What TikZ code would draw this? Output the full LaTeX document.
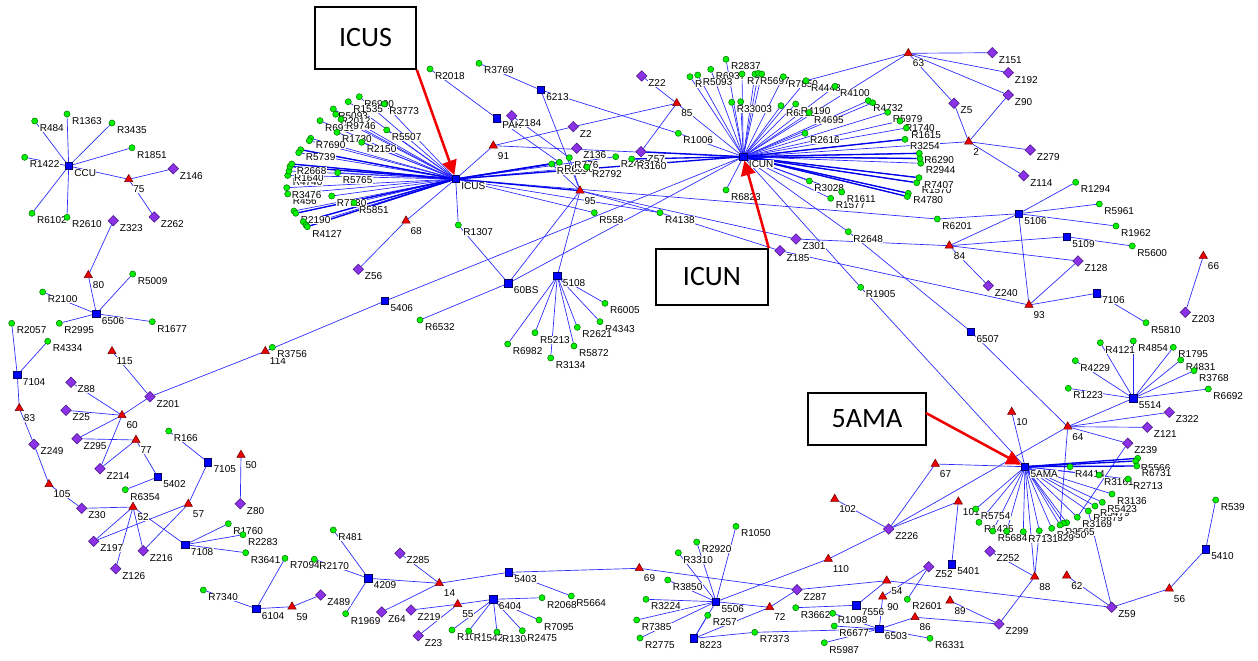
\documentclass[tikz,border=0pt]{standalone}
\usepackage{fontspec}
\setmainfont{Liberation Sans}
\newfontfamily\calib{Carlito}
\usetikzlibrary{shapes.geometric,arrows.meta}
\pgfdeclarelayer{edges}
\pgfsetlayers{edges,main}
\definecolor{gfill}{RGB}{0,240,0}
\definecolor{gline}{RGB}{0,110,0}
\definecolor{bfill}{RGB}{0,0,255}
\definecolor{bline}{RGB}{0,0,100}
\definecolor{rfill}{RGB}{235,0,0}
\definecolor{rline}{RGB}{110,0,0}
\definecolor{pfill}{RGB}{140,50,230}
\definecolor{pline}{RGB}{70,20,130}
\definecolor{edgec}{RGB}{40,40,255}
\definecolor{edged}{RGB}{0,0,235}
\definecolor{arrred}{RGB}{240,0,0}
\tikzset{
 rn/.style={circle,fill=gfill,draw=gline,line width=0.35pt,inner sep=0pt,minimum size=4.6pt},
 sq/.style={rectangle,fill=bfill,draw=bline,line width=0.4pt,inner sep=0pt,minimum size=5.4pt},
 tr/.style={regular polygon,regular polygon sides=3,fill=rfill,draw=rline,line width=0.4pt,inner sep=0pt,minimum size=7.2pt},
 dm/.style={diamond,fill=pfill,draw=pline,line width=0.4pt,inner sep=0pt,minimum size=8pt},
 lab/.style={font=\fontsize{7.5}{8}\selectfont,anchor=west,fill=white,inner sep=0.3pt},
 ed/.style={draw=edgec,line width=0.5pt},
 edt/.style={draw=edged,line width=1.0pt},
 callout/.style={draw=black,line width=1.2pt,fill=white,font=\calib\fontsize{21}{24}\selectfont,inner sep=0pt},
 redarrow/.style={draw=arrred,line width=1.9pt,-{Triangle[length=11pt,width=11pt]}},
}
\newcount\passno
\newcommand{\GenNode}[7]{\ifnum\passno=1 \node[lab] (#2-l) at ({#3+#6},{#4+#7}) {#5};\else \node[#1] (#2) at (#3,#4) {};\fi}
\newcommand{\NdR}[4]{\GenNode{rn}{#1}{#2}{#3}{#4}{4.5}{7}}
\newcommand{\NdS}[4]{\GenNode{sq}{#1}{#2}{#3}{#4}{5}{7}}
\newcommand{\NdT}[4]{\GenNode{tr}{#1}{#2}{#3}{#4}{4}{10}}
\newcommand{\NdD}[4]{\GenNode{dm}{#1}{#2}{#3}{#4}{6}{7}}
\newcommand{\NdU}[3]{\ifnum\passno=2 \node[rn] (#1) at (#2,#3) {};\fi}
\newcommand{\AllNodes}{%
\NdR{R484}{34.7}{121}{R484}
\NdR{R1363}{67}{114}{R1363}
\NdR{R3435}{112}{123}{R3435}
\NdR{R1422}{24.7}{157.3}{R1422}
\NdR{R1851}{132}{147.7}{R1851}
\NdS{CCU}{68.7}{166}{CCU}
\NdT{t75}{128.7}{179.3}{75}
\NdD{Z146}{173.3}{168.7}{Z146}
\NdD{Z262}{154.3}{217}{Z262}
\NdR{R6102}{32}{213.3}{R6102}
\NdR{R2610}{67}{217.3}{R2610}
\NdD{Z323}{113.3}{220.7}{Z323}
\NdT{t80}{88.3}{275.3}{80}
\NdR{R5009}{132.7}{274}{R5009}
\NdR{R2100}{42.7}{292}{R2100}
\NdS{s6506}{96.3}{313.7}{6506}
\NdR{R2057}{11.7}{323.3}{R2057}
\NdR{R2995}{59.3}{323.3}{R2995}
\NdR{R1677}{152.3}{321.7}{R1677}
\NdR{R4334}{47.7}{341.3}{R4334}
\NdT{t115}{112}{351.3}{115}
\NdT{t114}{265.3}{351.3}{114}
\NdR{R3756}{272.3}{347.3}{R3756}
\NdS{s7104}{17.3}{375}{7104}
\NdD{Z88}{71}{382.3}{Z88}
\NdD{Z201}{150}{396.7}{Z201}
\NdD{Z25}{66}{410.3}{Z25}
\NdT{t83}{19.3}{408.3}{83}
\NdT{t60}{122}{415.3}{60}
\NdD{Z295}{77}{438.7}{Z295}
\NdT{t77}{136}{440}{77}
\NdR{R166}{168.7}{431}{R166}
\NdD{Z249}{34}{444.3}{Z249}
\NdS{s7105}{208}{462.3}{7105}
\NdT{t50}{241}{455}{50}
\NdD{Z214}{100}{468.7}{Z214}
\NdS{s5402}{157.7}{477}{5402}
\NdT{t105}{49}{484.3}{105}
\NdR{R6354}{125.3}{489.7}{R6354}
\NdD{Z80}{240.3}{503.7}{Z80}
\NdD{Z30}{81.7}{508.3}{Z30}
\NdT{t52}{133}{507}{52}
\NdT{t57}{188.3}{504}{57}
\NdR{R1760}{228.3}{523.7}{R1760}
\NdR{R2283}{243}{534.7}{R2283}
\NdD{Z197}{93.7}{541.3}{Z197}
\NdS{s7108}{185.3}{544.7}{7108}
\NdD{Z216}{143.3}{550.7}{Z216}
\NdR{R3641}{245.7}{552.7}{R3641}
\NdR{R7094}{285}{558.3}{R7094}
\NdD{Z126}{115.7}{568.7}{Z126}
\NdR{R7340}{203.3}{590}{R7340}
\NdS{s6104}{256.3}{608.7}{6104}
\NdT{t59}{292}{606.7}{59}
\NdR{R481}{333.3}{530}{R481}
\NdR{R2170}{314.3}{559.3}{R2170}
\NdD{Z489}{320.7}{595}{Z489}
\NdS{s4209}{368.3}{578.3}{4209}
\NdR{R1969}{345.7}{613.7}{R1969}
\NdD{Z285}{400}{553.3}{Z285}
\NdT{t14}{439.3}{583.3}{14}
\NdD{Z64}{381.7}{612}{Z64}
\NdD{Z219}{411}{610}{Z219}
\NdT{t55}{457.7}{604.3}{55}
\NdD{Z23}{418.3}{635.7}{Z23}
\NdS{s6404}{493.3}{599.3}{6404}
\NdS{s5403}{508.7}{572.3}{5403}
\NdR{R2068}{542}{597.7}{R2068}
\NdR{R5664}{571.3}{596}{R5664}
\NdR{R7095}{539}{620}{R7095}
\NdR{R1041}{452}{630}{R1041}
\NdR{R1542}{468.7}{631}{R1542}
\NdR{R1304}{497}{632}{R1304}
\NdR{R2475}{522.3}{630.7}{R2475}
\NdT{t67}{935.3}{464}{67}
\NdT{t102}{834.7}{499}{102}
\NdD{Z226}{888.7}{529}{Z226}
\NdR{R1050}{736}{526.3}{R1050}
\NdR{R2920}{696.7}{542}{R2920}
\NdR{R3310}{678.3}{552.7}{R3310}
\NdT{t69}{639.3}{568.3}{69}
\NdT{t110}{828.3}{559}{110}
\NdD{Z52}{928.7}{566.7}{Z52}
\NdS{s5401}{951.7}{564.3}{5401}
\NdR{R3850}{667.7}{580}{R3850}
\NdD{Z287}{797}{589.7}{Z287}
\NdT{t54}{886.7}{580.7}{54}
\NdT{t90}{882.7}{596.7}{90}
\NdR{R2601}{907.3}{599.3}{R2601}
\NdT{t89}{950}{600.7}{89}
\NdR{R3224}{646}{599.3}{R3224}
\NdS{s5506}{716}{601.7}{5506}
\NdT{t72}{769.7}{607.3}{72}
\NdR{R3662}{795.7}{607.7}{R3662}
\NdS{s7556}{856.3}{605.3}{7556}
\NdR{R1098}{832.7}{613.3}{R1098}
\NdR{R257}{707.7}{615.3}{R257}
\NdR{R7385}{636.7}{620}{R7385}
\NdT{t86}{915}{617.3}{86}
\NdR{R6677}{834.3}{626}{R6677}
\NdS{s6503}{879.3}{629}{6503}
\NdR{R7373}{754.7}{632.3}{R7373}
\NdS{s8223}{694}{638.3}{8223}
\NdR{R6331}{930}{638.3}{R6331}
\NdR{R2775}{640}{638}{R2775}
\NdR{R5987}{824.3}{642.7}{R5987}
\NdT{t10}{1011.7}{412}{10}
\NdT{t64}{1067.7}{426.7}{64}
\NdT{t101}{958.3}{501.7}{101}
\NdD{Z252}{990}{551.3}{Z252}
\NdT{t88}{1034.7}{576.7}{88}
\NdT{t62}{1066.7}{575.7}{62}
\NdD{Z59}{1111.7}{607.3}{Z59}
\NdD{Z299}{999}{624}{Z299}
\NdT{t56}{1169.3}{588.7}{56}
\NdS{s5410}{1205.7}{549.3}{5410}
\NdR{R539}{1215.7}{500}{R539}
\NdD{Z322}{1169.3}{412.3}{Z322}
\NdD{Z121}{1147.3}{427.3}{Z121}
\NdD{Z239}{1127.7}{443.3}{Z239}
\NdS{s5514}{1133.3}{398.3}{5514}
\NdR{R4121}{1100.3}{342.7}{R4121}
\NdR{R4854}{1133.3}{341}{R4854}
\NdR{R1795}{1173.3}{347.3}{R1795}
\NdR{R4831}{1180.7}{360}{R4831}
\NdR{R3768}{1194}{370.7}{R3768}
\NdR{R6692}{1208.3}{389}{R6692}
\NdR{R4229}{1075.3}{360.7}{R4229}
\NdR{R1223}{1068.3}{388.3}{R1223}
\NdS{s6507}{971}{331.7}{6507}
\NdU{u7}{1137.7}{458.3}
\NdR{R5566}{1135.7}{461}{R5566}
\NdR{R6731}{1136.7}{466}{R6731}
\NdR{R441}{1070}{466.7}{R4414}
\NdR{R3161}{1099}{475}{R3161}
\NdR{R2713}{1128}{479}{R2713}
\NdR{R3136}{1112}{494}{R3136}
\NdR{R5679}{1088.3}{511}{R5679}
\NdR{R5479}{1095}{506}{R5479}
\NdR{R5423}{1102.3}{502.3}{R5423}
\NdR{R3169}{1077.3}{517.3}{R3169}
\NdU{u9}{1066.7}{522.7}
\NdU{u10}{1063.3}{523.3}
\NdR{R2565}{1060}{525}{R2565}
\NdR{R4350}{1051.7}{528.3}{R4350}
\NdR{R4829}{1039.3}{530.7}{R4829}
\NdR{R7131}{1023.3}{531.7}{R7131}
\NdU{u11}{1006.7}{531.3}
\NdR{R5754}{975.7}{509}{R5754}
\NdR{R1435}{979}{522.3}{R1435}
\NdR{R5684}{992.7}{531}{R5684}
\NdS{AMA}{1025}{466.7}{5AMA}
\NdT{t63}{908.3}{53.3}{63}
\NdD{Z151}{992.3}{52.7}{Z151}
\NdD{Z192}{1008.3}{72.7}{Z192}
\NdD{Z5}{954}{103.3}{Z5}
\NdD{Z90}{1008.3}{95}{Z90}
\NdT{t2}{968.7}{141.7}{2}
\NdD{Z279}{1030.3}{150}{Z279}
\NdD{Z114}{1023.7}{175.7}{Z114}
\NdR{R1294}{1075.7}{182.3}{R1294}
\NdR{R5961}{1099.3}{204}{R5961}
\NdS{s5106}{1018.7}{213.7}{5106}
\NdR{R1962}{1116}{226}{R1962}
\NdS{s5109}{1066.7}{236.7}{5109}
\NdR{R5600}{1132.3}{246}{R5600}
\NdT{t84}{949.3}{245.7}{84}
\NdD{Z128}{1078}{261}{Z128}
\NdT{t66}{1203.3}{256}{66}
\NdD{Z240}{988.3}{285.7}{Z240}
\NdS{s7106}{1096.7}{293.3}{7106}
\NdT{t93}{1029}{305}{93}
\NdD{Z203}{1185.3}{312.3}{Z203}
\NdR{R5810}{1146}{322.7}{R5810}
\NdR{R6201}{937.3}{219}{R6201}
\NdD{Z301}{796}{239}{Z301}
\NdD{Z185}{780}{250.7}{Z185}
\NdR{R2648}{848.3}{231.7}{R2648}
\NdR{R1905}{860.7}{287.3}{R1905}
\NdR{R2018}{430}{69}{R2018}
\NdR{R3769}{479}{63.3}{R3769}
\NdS{s6213}{540.7}{90}{6213}
\NdS{PAK}{496.7}{118.3}{PAK}
\NdD{Z184}{511.7}{115.7}{Z184}
\NdD{Z2}{573.3}{126.7}{Z2}
\NdT{t91}{493.3}{145.7}{91}
\NdD{Z136}{576.7}{148.3}{Z136}
\NdD{Z57}{641}{151.7}{Z57}
\NdD{Z22}{641.7}{76}{Z22}
\NdT{t85}{676.7}{103.3}{85}
\NdR{R1006}{678.3}{133.3}{R1006}
\NdR{R6921}{551.7}{164}{R6921}
\NdR{R6036}{559.3}{162.3}{R6036}
\NdR{R2792}{587}{167}{R2792}
\NdR{R776}{569.3}{157.7}{R776}
\NdR{R2407}{615.7}{156.7}{R2407}
\NdR{R3160}{631.7}{159}{R3160}
\NdT{t95}{580}{190.7}{95}
\NdR{R558}{594.3}{212.7}{R558}
\NdR{R4138}{660}{212.7}{R4138}
\NdT{t68}{406}{220.7}{68}
\NdD{Z56}{358.3}{269.3}{Z56}
\NdR{R1307}{458.3}{225}{R1307}
\NdS{s60BS}{508.3}{283.3}{60BS}
\NdS{s5108}{557.3}{276}{5108}
\NdR{R6005}{605}{303.3}{R6005}
\NdR{R4343}{600}{321.7}{R4343}
\NdR{R2621}{577.3}{327.3}{R2621}
\NdR{R5213}{535}{332.7}{R5213}
\NdR{R6982}{507.7}{344}{R6982}
\NdR{R3134}{550.7}{358}{R3134}
\NdR{R5872}{574}{346}{R5872}
\NdR{R6532}{420}{320}{R6532}
\NdS{s5406}{385}{301}{5406}
\NdR{R6990}{359.3}{96.7}{R6990}
\NdR{R1535}{348.3}{101.7}{R1535}
\NdR{R3773}{384.3}{104}{R3773}
\NdR{R5093a}{333.3}{109}{R5093}
\NdR{R2012}{335.7}{114.3}{R2012}
\NdR{R6910}{320}{120.7}{R6910}
\NdR{R9746}{341}{119.3}{R9746}
\NdR{R5507}{386.7}{130}{R5507}
\NdR{R1730}{337}{132.3}{R1730}
\NdR{R7690}{310.7}{138.3}{R7690}
\NdU{u1}{309.3}{140.7}
\NdR{R2150}{361.7}{142.3}{R2150}
\NdR{R5739}{300.7}{149.7}{R5739}
\NdU{u2}{298.7}{152.7}
\NdR{R4740}{287.7}{175.5}{R4740}
\NdR{R1640}{289}{171}{R1640}
\NdU{u3}{290}{166.5}
\NdR{R2668}{291.7}{164}{R2668}
\NdR{R5765}{337.7}{172.7}{R5765}
\NdR{R456}{287.7}{194}{R456}
\NdR{R3476}{286.7}{187.7}{R3476}
\NdR{R7730}{331.7}{196}{R7730}
\NdR{R5851}{354}{202.7}{R5851}
\NdU{u4}{294}{211}
\NdR{R2190}{295.7}{213.3}{R2190}
\NdU{u5}{303.3}{221.7}
\NdU{u6}{306}{225}
\NdR{R4127}{307.3}{226.7}{R4127}
\NdS{ICUS}{455.7}{179}{ICUS}
\NdR{R2837}{726}{59.3}{R2837}
\NdR{R6937}{710.7}{69.3}{R6937}
\NdR{Rr}{690}{76.7}{R}
\NdR{R5093}{697.7}{75}{R5093}
\NdR{R7}{742}{74}{R7}
\NdR{R5697}{755}{74}{R5697}
\NdU{u12}{758.3}{73.3}
\NdU{u13}{761.7}{74}
\NdR{R7850}{783.3}{76.7}{R7850}
\NdR{R4448}{806}{80.7}{R4448}
\NdR{R4100}{835}{86.3}{R4100}
\NdR{R33003}{731.7}{102.3}{R33003}
\NdU{u14}{740.7}{101.7}
\NdR{R6890}{781}{105.7}{R6890}
\NdR{R4190}{795.7}{104}{R4190}
\NdR{R4695}{809}{112.7}{R4695}
\NdR{R4732}{868.3}{100.7}{R4732}
\NdU{u15}{872.7}{102.7}
\NdR{R5979}{887.7}{112.3}{R5979}
\NdR{R1740}{900}{121}{R1740}
\NdR{R1615}{906.3}{128}{R1615}
\NdR{R3254}{905}{139.3}{R3254}
\NdR{R2616}{805}{133.3}{R2616}
\NdR{R2944}{920.7}{163.3}{R2944}
\NdU{u16}{920}{158.5}
\NdR{R6290}{919.3}{153.3}{R6290}
\NdR{R1570}{916.7}{182.7}{R1570}
\NdR{R7407}{919}{177.7}{R7407}
\NdR{R4780}{908.3}{193.3}{R4780}
\NdU{u17}{907.3}{196.5}
\NdR{R3028}{809.3}{181}{R3028}
\NdR{R1577}{830.7}{198.3}{R1577}
\NdR{R1611}{841.7}{192}{R1611}
\NdR{R6823}{726}{190}{R6823}
\NdS{ICUN}{743.3}{156.7}{ICUN}
}
\begin{document}
\begin{tikzpicture}[x=0.75pt,y=-0.75pt]
\useasboundingbox (0,0) rectangle (1258,661);
\passno=1
\AllNodes
\passno=2
\AllNodes
\begin{pgfonlayer}{edges}
\fill[white] (0,0) rectangle (1258,661);
\foreach \a/\b in {CCU/R484,CCU/R1363,CCU/R3435,CCU/R1422,CCU/R1851,CCU/t75,CCU/R6102,CCU/R2610,t75/Z146,t75/Z262,Z323/t80,t80/s6506,s6506/R5009,s6506/R2100,s6506/R2995,s6506/R1677,
R2057/s7104,R4334/s7104,s7104/t83,t83/Z249,Z249/t105,t105/Z30,Z30/t52,t52/Z197,t52/Z126,t52/Z216,t52/s7108,R6354/s5402,s5402/t77,t77/Z295,t77/Z214,t60/Z295,t60/Z214,t60/Z25,t60/Z88,t60/Z201,Z201/t115,Z201/t114,t114/s5406,s5406/ICUN,
R166/s7105,s7105/t57,t57/Z197,t57/Z216,s7108/R1760,s7108/R2283,s7108/R3641,t50/Z80,R7094/s6104,R7340/s6104,s6104/t59,t59/Z489,
R481/s4209,R2170/s4209,R1969/s4209,s4209/t14,t14/Z285,t14/Z64,t14/s5403,s5403/R5664,s5403/t69,t55/Z219,t55/Z23,t55/s6404,s6404/R2068,s6404/R7095,s6404/R1041,s6404/R1542,s6404/R1304,s6404/R2475}
 \draw[ed] (\a) -- (\b);
\foreach \a/\b in {s5506/R1050,s5506/R2920,s5506/R3310,s5506/R3850,s5506/R3224,s5506/R7385,s5506/R2775,s5506/s8223,s5506/t72,s5506/t110,t110/Z226,t72/Z287,s8223/t72,s8223/R257,s8223/R7373,R7373/s6503,s7556/R3662,s7556/t54,t90/s6503,s6503/R1098,s6503/R6677,s6503/R5987,s6503/t86,s6503/R6331,Z52/t90,Z52/R2601,t69/Z287,Z287/t54,t54/Z59,t102/Z226,t67/Z226,Z226/t101,Z226/t64,t101/s5401,t67/AMA,t86/Z299,
t89/Z299,Z299/t88,t88/R4829,t88/Z252,t88/AMA,t62/Z59,Z59/R5679,Z59/t56,t56/s5410,s5410/R539,t10/AMA,
t64/s5514,t64/Z322,t64/Z121,t64/Z239,t64/s6507,t64/R2565,Z239/R3169,s5514/R4121,s5514/R4854,s5514/R1795,s5514/R4831,s5514/R3768,s5514/R6692,s5514/R4229,s5514/R1223,
AMA/R441,AMA/R3161,AMA/R2713,AMA/R3136,AMA/R5423,AMA/R5479,AMA/R5679,AMA/R3169,AMA/u9,AMA/u10,AMA/R2565,AMA/R4350,AMA/R4829,AMA/R7131,AMA/u11,AMA/R5684,AMA/R1435,AMA/R5754,
ICUN/R1905,R1905/AMA,ICUN/R2648,R2648/s6507}
 \draw[ed] (\a) -- (\b);
\foreach \a/\b in {t63/Z151,t63/Z192,t63/Z90,t63/Z5,Z5/t2,Z90/t2,t2/Z279,t2/Z114,ICUN/t2,ICUN/t63,t63/R4448,
s5106/R1294,s5106/R5961,s5106/R1962,s5106/R6201,s5106/t84,s5106/t93,t84/s5109,s5109/R5600,t84/Z128,t84/Z240,Z301/t84,t93/Z128,t93/s7106,s7106/R5810,Z185/t93,t66/Z203,
ICUS/t91,ICUS/t68,t68/Z56,ICUS/R1307,R1307/s60BS,R6532/s60BS,s60BS/t95,s60BS/ICUN,ICUS/R558,ICUS/R4138,R4138/Z185,ICUS/R6201,t95/R4138,t95/Z301,R2018/PAK,R3769/s6213,s6213/R1006,R1006/ICUN,s6213/t95,PAK/R6036,Z184/R776,t91/Z2,Z2/t85,t91/ICUN,Z57/t85,Z22/t85,t85/ICUN,t95/R6921,t95/R776,
s5108/t95,s5108/R6005,s5108/R4343,s5108/R2621,s5108/R5213,s5108/R6982,s5108/R3134,s5108/R5872,ICUS/R2792,ICUS/R2407}
 \draw[ed] (\a) -- (\b);
\foreach \b in {R6990,R1535,R3773,R5093a,R2012,R6910,R9746,R5507,R1730,R7690,u1,R2150,R5739,u2,R2668,u3,R1640,R4740,R5765,R3476,R456,R7730,R5851,u4,R2190,u5,u6,R4127}
 \draw[ed] (ICUS) -- (\b);
\foreach \b in {R2837,Rr,R5093,R6937,R7,R5697,u12,u13,R7850,R4448,R4100,R33003,u14,R6890,R4190,R4695,R4732,u15,R5979,R1740,R1615,R3254,R2616,R6290,u16,R2944,R7407,R1570,R4780,u17,R3028,R1611,R1577,R6823}
 \draw[ed] (ICUN) -- (\b);
\foreach \a/\b in {ICUS/ICUN,ICUS/R6921,ICUS/R6036,ICUS/t95,R3160/ICUN,Z57/ICUN,ICUN/R6290,ICUN/u16,ICUN/R7407,ICUN/R1570,ICUN/R4780,ICUN/u17,ICUN/R3254,ICUS/R2668,ICUS/u3,ICUS/R5739,ICUS/R2190,ICUS/R4127,ICUS/u5,AMA/u7,AMA/R5566,AMA/R6731}
 \draw[edt] (\a) -- (\b);
\end{pgfonlayer}
\node[callout,minimum width=75.75pt,minimum height=46.5pt] (bICUS) at (365.5,38) {ICUS};
\node[callout,minimum width=84pt,minimum height=42pt] (bICUN) at (712,277) {ICUN};
\node[callout,minimum width=88.5pt,minimum height=39pt] (bAMA) at (867,419) {5AMA};
\coordinate (aAMA) at (926,413);
\draw[redarrow] (bICUS.south east) -- (ICUS);
\draw[redarrow] (bICUN.north east) -- (ICUN);
\draw[redarrow] (aAMA) -- (AMA);
\end{tikzpicture}
\end{document}
